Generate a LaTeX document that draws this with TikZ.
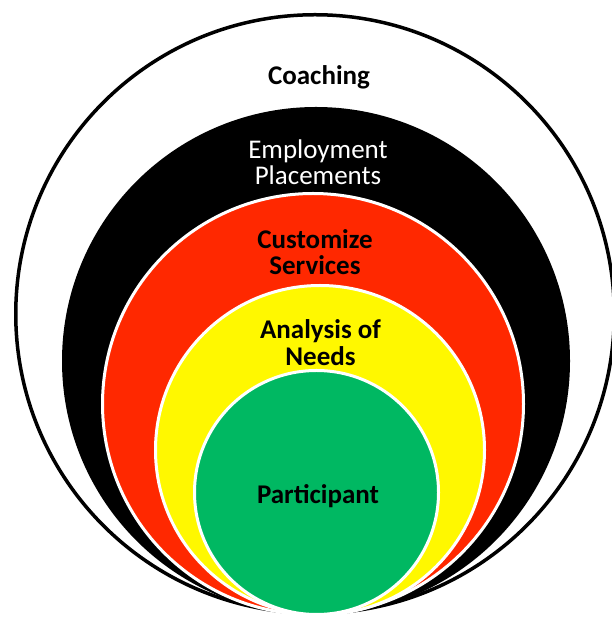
\documentclass[tikz,border=0pt]{standalone}
\usepackage{fontspec}
\setmainfont{Carlito}
\usepackage{tikz}
\usetikzlibrary{positioning}

\definecolor{ringred}{RGB}{255,40,0}
\definecolor{ringyellow}{RGB}{255,248,0}
\definecolor{ringgreen}{RGB}{0,184,98}

\tikzset{
  ring/.style={circle, inner sep=0pt, outer sep=0pt, draw=white, line width=3pt},
  label/.style={align=center, inner sep=0pt, font=\fontsize{27}{26.4}\selectfont\bfseries}
}

\begin{document}
\begin{tikzpicture}[x=1pt,y=1pt]
        \clip (0,0) rectangle (612,618);
        \node[ring,draw=black,line width=3.5pt,fill=white,minimum size=598.5pt] (c_1) at (315,304) {};
        \node[ring,draw=none,fill=black,minimum size=508pt] (c_2) at (316,257) {};
        \node[ring,fill=ringred,minimum size=421pt] (c_3) at (313,214) {};
        \node[ring,fill=ringyellow,minimum size=329pt] (c_4) at (320,168) {};
        \node[ring,fill=ringgreen,minimum size=244pt] (c_5) at (316.5,125.5) {};
        \node[label] (t_1) at (319,541) {Coaching};
        \node[label,font=\fontsize{27}{26.4}\selectfont,text=white] (t_2) at (318,456) {Employment\\Placements};
        \node[label] (t_3) at (315,366) {Customize\\Services};
        \node[label] (t_4) at (320.5,275.5) {Analysis of\\Needs};
        \node[label] (t_5) at (318,121.5) {Participant};
\end{tikzpicture}
\end{document}
